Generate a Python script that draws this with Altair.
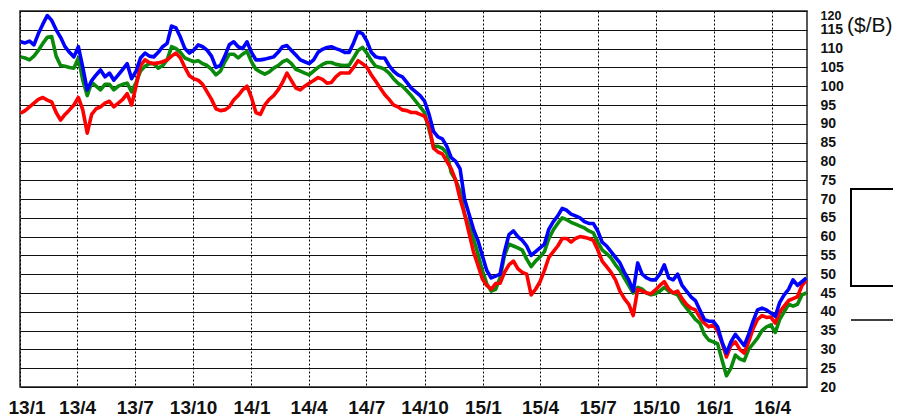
import altair as alt
import pandas as pd

# Weekly samples starting 2013-01-02
start_date = "2013-01-02"
n_weeks = 178

brent = [111.8, 111.5, 112, 111, 114, 116.5, 118.8, 117.5, 115, 113,
         110.5, 109, 107.8, 110.5, 105, 99, 101.5, 103, 104.3, 102.5,
         103.5, 101.6, 103, 104.5, 106, 102, 104, 107.5, 108.8, 108,
         107.8, 109, 110.5, 111.4, 116, 115.5, 113, 110, 108.8, 109.6,
         111, 110.5, 109.6, 108, 105, 105.5, 108, 111, 111.8, 110.5,
         110, 111.8, 109, 107, 107, 107.2, 107.5, 107.8, 109, 110.5,
         110.8, 109.5, 108.3, 107, 106.5, 106, 107, 109, 109.8, 110.3,
         110.5, 110, 109.6, 109, 109, 111.5, 114.5, 114, 112, 109,
         107.8, 107.5, 107.5, 105.5, 104, 103, 102.5, 101, 99.5, 98.5,
         97.5, 96, 92.5, 88, 86.5, 86, 84, 81, 80, 78,
         70, 66, 62, 59, 55, 51, 49, 49.5, 50, 56,
         60.5, 61.5, 60, 59, 57.5, 55, 56, 57, 58, 62,
         64, 65.5, 67.5, 67, 66, 65.5, 65, 64, 63.5, 63.5,
         61.5, 58.5, 57.5, 56, 54.5, 53, 50.5, 48.5, 45.5, 53,
         50, 49, 48.5, 48.5, 50, 52.5, 49, 48.5, 50, 47,
         45.5, 44, 43, 40.5, 38, 37.5, 37.5, 36, 32, 29,
         32, 34, 32.5, 31, 34, 37.5, 40.5, 41, 40.5, 39.7,
         38.8, 42.5, 44.5, 46, 48.5, 47, 48, 49]

dubai = [107.8, 107.5, 107, 108, 109.5, 111.4, 113, 113.2, 108, 105.5,
         105.3, 105, 104.8, 107.5, 101.6, 97.5, 101, 100, 99, 100.5,
         100.5, 99, 100, 100.5, 100.8, 98.5, 101, 104, 105.3, 106,
         106, 104.8, 105.5, 107, 110.5, 110, 109, 107.5, 107, 106.5,
         106.8, 106, 105.5, 104.5, 103, 104, 106.5, 108.5, 108.5, 107.5,
         108.5, 109.3, 106.5, 104.5, 103.8, 103.2, 103.8, 104.8, 105.5, 106.5,
         107, 106, 104.5, 104, 103.5, 103, 104, 105, 105.8, 106.3,
         106.3, 105.8, 105.6, 105.5, 105.6, 107.5, 109.5, 110.3, 108.8, 106.8,
         105.3, 105, 104.5, 103.5, 102, 100.8, 100, 98.8, 97.5, 96,
         94.5, 93, 88.5, 84, 84, 83.5, 82.2, 77, 75, 72,
         66, 63, 59.5, 55.5, 51, 47.5, 45.5, 46, 49, 55,
         58, 57.5, 57, 56.4, 54, 52, 53.5, 54.6, 56, 59.5,
         61.8, 63.5, 65, 64.5, 63.8, 63.3, 62.8, 62.3, 61.5, 61,
         58.5, 56.5, 55.5, 54.3, 52.5, 51, 49, 47, 45, 46.5,
         46, 45, 44.5, 44.8, 45.5, 46.5, 45.5, 45, 44.5, 42.5,
         41, 39.5, 38, 37, 34, 32.5, 32, 31.5, 27.2, 23,
         25, 28.5, 27.5, 27, 30, 31.5, 33, 35, 36, 36.5,
         34.5, 38, 40, 42, 41.5, 42, 44.5, 45]

wti = [92.8, 93.5, 94.5, 95.5, 96.5, 97, 96.3, 95.8, 93, 91,
       92.5, 93.7, 95, 97, 93.7, 87.5, 92.5, 94, 94.5, 95.5,
       96, 94.5, 95.5, 96.5, 98, 95, 100, 105.5, 107, 106.3,
       106, 106.2, 106.5, 107, 108, 108.8, 107.5, 105, 102.8, 102,
       101.6, 100.5, 98.5, 96.5, 94, 93.5, 93.7, 94.5, 96.3, 97.5,
       99, 100, 97, 93, 92.5, 95, 96.5, 97.5, 99, 101,
       103.5, 101.5, 99.5, 99, 100, 100.8, 101.5, 102.3, 101.8, 100.8,
       101, 102.5, 103.5, 103.5, 103.5, 105, 106.8, 106, 105, 103,
       101.3, 99.5, 97.8, 96.5, 95, 94.5, 93.7, 93.5, 93, 93,
       92.5, 92, 89.5, 83.5, 82.5, 82, 80, 78, 75, 70,
       66, 61, 56, 52.5, 48.8, 47, 46, 47.5, 47.6, 50.5,
       52.5, 53.5, 51.5, 50.5, 50, 44.5, 46, 48, 51, 54.5,
       56, 57.5, 59.5, 59.5, 58.5, 59.5, 60, 59.8, 59.5, 59,
       56.5, 53.5, 52, 50.5, 48.5, 45.5, 43.5, 42, 39, 46,
       45.5, 45, 44.8, 45.8, 47, 48, 46, 45, 45.5, 43.5,
       42, 41, 40.5, 38.5, 37, 36, 36.5, 35, 31.7, 28,
       31, 32, 30, 29, 32, 35.5, 38, 39, 38.5, 38.6,
       37, 40, 41.5, 43, 43.5, 44, 47, 48.4]

series_names = ["Dubai", "WTI", "Brent"]
series_colors = ["#0a8a0a", "#ff0000", "#0000ff"]
y_ticks = list(range(20, 121, 5))
x_tick_dates = [(2013, 1), (2013, 4), (2013, 7), (2013, 10),
                (2014, 1), (2014, 4), (2014, 7), (2014, 10),
                (2015, 1), (2015, 4), (2015, 7), (2015, 10),
                (2016, 1), (2016, 4)]
unit_label = "($/B)"

dates = pd.date_range(start_date, periods=n_weeks, freq="7D")
frames = []
for name, vals in zip(series_names, [dubai, wti, brent]):
    frames.append(pd.DataFrame({"date": dates.strftime("%Y-%m-%d"), "price": vals, "series": name}))
df = pd.concat(frames, ignore_index=True)

FONT = "Liberation Sans Narrow, Arial Narrow, Liberation Sans, Arial, sans-serif"

x_scale = alt.Scale(type="utc",
                    domain=[alt.DateTime(year=2013, month=1, date=1, utc=True),
                            alt.DateTime(year=2016, month=5, date=26, utc=True)])
y_scale = alt.Scale(domain=[20, 120], nice=False, zero=False)

x_axis = alt.Axis(
    values=[alt.DateTime(year=y, month=m, date=1, utc=True) for y, m in x_tick_dates],
    labelExpr="utcFormat(datum.value, '%y') + '/' + (utcmonth(datum.value) + 1)",
    title=None, ticks=False, domain=False,
    grid=True, gridColor="#000000", gridDash=[2, 2], gridWidth=1,
    labelFont=FONT, labelFontSize=19, labelFontWeight="bold", labelColor="#111111",
    labelPadding=11, labelFlush=True, labelFlushOffset=12, labelOverlap=False,
)
y_axis = alt.Axis(
    orient="right", values=y_ticks, title=None, ticks=False, domain=False,
    grid=True, gridColor="#111111", gridWidth=1.2,
    labelFont=FONT, labelFontWeight="bold", labelColor="#111111",
    labelFontSize={"condition": {"test": "datum.value == 120", "value": 12.5}, "value": 14},
    labelPadding=13, labelAlign="left", labelBaseline="middle", labelOverlap=False,
    labelOffset={"condition": {"test": "datum.value == 120", "value": 4}, "value": 0},
)

base = alt.Chart(df).encode(
    x=alt.X("date:T", scale=x_scale, axis=x_axis),
    y=alt.Y("price:Q", scale=y_scale, axis=y_axis),
)

layers = []
for name, col in zip(series_names, series_colors):
    layers.append(
        base.transform_filter(alt.datum.series == name).mark_line(
            color=col, strokeWidth=3.6, strokeJoin="round", clip=True
        )
    )

unit_text = alt.Chart(pd.DataFrame({"t": [unit_label]})).mark_text(
    align="left", baseline="middle", font="Liberation Sans", fontSize=21, color="#111111"
).encode(text="t:N", x=alt.value(827), y=alt.value(15))

legend_box = alt.Chart(pd.DataFrame({"t": [0]})).mark_rect(
    fill="white", stroke="#000000", strokeWidth=2
).encode(x=alt.value(831), x2=alt.value(905), y=alt.value(178), y2=alt.value(275))

legend_rule = alt.Chart(pd.DataFrame({"t": [0]})).mark_rule(
    color="#000000", strokeWidth=1.5
).encode(x=alt.value(831), x2=alt.value(905), y=alt.value(309))

chart = alt.layer(*layers, unit_text, legend_box, legend_rule).properties(
    width=787, height=376,
    padding={"left": 12, "top": 3, "right": 86, "bottom": 30},
    autosize=alt.AutoSizeParams(type="none"),
).configure(background="white").configure_view(stroke="#222222", strokeWidth=1.5)

chart.save("out.html", embed_options={"renderer": "svg", "actions": False})
